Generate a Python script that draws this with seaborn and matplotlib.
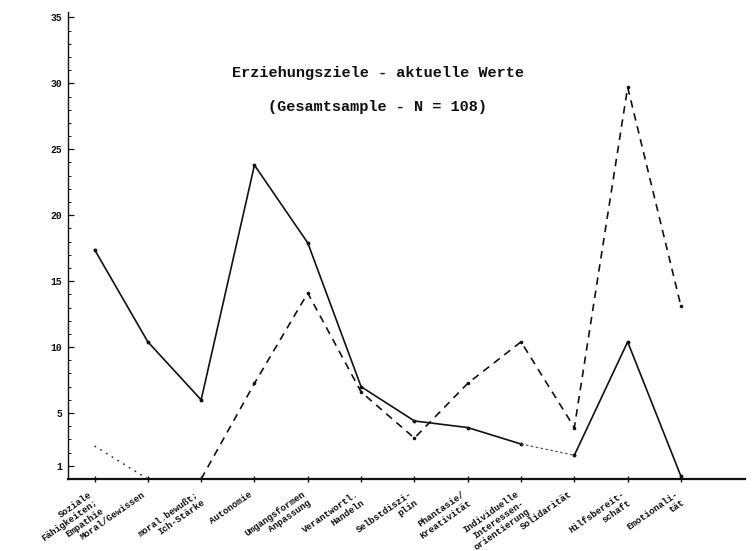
import matplotlib
matplotlib.use("Agg")
import matplotlib.pyplot as plt
import matplotlib.transforms as mtransforms
from matplotlib.ticker import FixedLocator, MultipleLocator
import seaborn as sns
import pandas as pd

# ---------------- data ----------------
categories = [
    "Soziale\nFähigkeiten;\nEmpathie",
    "Moral/Gewissen",
    "moral.bewußt;\nIch-Stärke",
    "Autonomie",
    "Umgangsformen\nAnpassung",
    "Verantwortl.\nHandeln",
    "Selbstdiszi-\nplin",
    "Phantasie/\nKreativität",
    "Individuelle\nInteressen-\norientierung",
    "Solidarität",
    "Hilfsbereit-\nschaft",
    "Emotionali-\ntät",
]
solid_values = [17.4, 10.4, 6.0, 23.8, 17.9, 7.0, 4.4, 3.9, 2.65, 1.8, 10.4, 0.2]
dashed_values = [2.5, 0.0, 0.0, 7.25, 14.1, 6.6, 3.1, 7.25, 10.4, 3.9, 29.7, 13.1]
y_tick_values = [1, 5, 10, 15, 20, 25, 30, 35]
title_line1 = "Erziehungsziele - aktuelle Werte"
title_line2 = "(Gesamtsample - N = 108)"

# ---------------- styling ----------------
sns.set_theme(style="white")
plt.rcParams["font.family"] = ["Liberation Mono", "DejaVu Sans Mono"]

fig = plt.figure(figsize=(7.54, 5.51), dpi=100)
ax = fig.add_axes([0.090, 0.1307, 0.898, 0.8473])

pos = list(range(len(categories)))
df = pd.DataFrame({"pos": pos, "solid": solid_values, "dashed": dashed_values})

ink = "#111111"

# solid series: solid up to "Individuelle", faint dotted to "Solidarität", then solid
sns.lineplot(data=df.iloc[0:9], x="pos", y="solid", ax=ax, color=ink, lw=1.2,
             marker="o", markersize=2.8, markeredgewidth=0)
sns.lineplot(data=df.iloc[8:10], x="pos", y="solid", ax=ax, color="#555555", lw=0.9,
             linestyle=(0, (2, 2)))
sns.lineplot(data=df.iloc[9:12], x="pos", y="solid", ax=ax, color=ink, lw=1.2,
             marker="o", markersize=2.8, markeredgewidth=0)

# dashed series: first segment dotted, rest dashed
sns.lineplot(data=df.iloc[0:2], x="pos", y="dashed", ax=ax, color="#333333", lw=1.1,
             linestyle=(0, (1.2, 3.2)))
sns.lineplot(data=df.iloc[1:12], x="pos", y="dashed", ax=ax, color=ink, lw=1.2,
             marker="o", markersize=2.6, markeredgewidth=0)
ax.lines[-1].set_linestyle((0, (4.5, 3.5)))

# ---------------- axes ----------------
ax.set_xlim(-0.5, 12.2)
ax.set_ylim(0, 35.4)
for s in ["top", "right"]:
    ax.spines[s].set_visible(False)
ax.spines["left"].set_color(ink)
ax.spines["left"].set_linewidth(1.0)
ax.spines["bottom"].set_color(ink)
ax.spines["bottom"].set_linewidth(1.6)

ax.yaxis.set_major_locator(FixedLocator(y_tick_values))
ax.yaxis.set_minor_locator(MultipleLocator(1))
ax.set_yticklabels([str(v) for v in y_tick_values], fontsize=7, fontweight="bold",
                   color=ink)
ax.tick_params(axis="y", which="major", direction="in", length=4, width=0.9,
               colors=ink, pad=4, left=True)
ax.tick_params(axis="y", which="minor", direction="in", length=2, width=0.7,
               colors=ink, left=True)

ax.set_xticks(pos)
ax.set_xticklabels(categories, fontsize=6.7, fontweight="bold", color=ink,
                   rotation=35, ha="right", va="top", rotation_mode="anchor",
                   linespacing=1.15)
ax.tick_params(axis="x", which="major", direction="inout", length=5, width=1.0,
               colors=ink, pad=1, bottom=True)
offset = mtransforms.ScaledTranslation(-6 / 100, -6 / 100, fig.dpi_scale_trans)
for lab in ax.get_xticklabels():
    lab.set_transform(lab.get_transform() + offset)

ax.set_xlabel("")
ax.set_ylabel("")
ax.grid(False)

# ---------------- title ----------------
fig.text(0.501, 0.8675, title_line1, ha="center", va="center",
         fontsize=11, fontweight="bold", color=ink)
fig.text(0.501, 0.806, title_line2, ha="center", va="center",
         fontsize=11, fontweight="bold", color=ink)

fig.savefig("out.png", dpi=100, facecolor="white")
